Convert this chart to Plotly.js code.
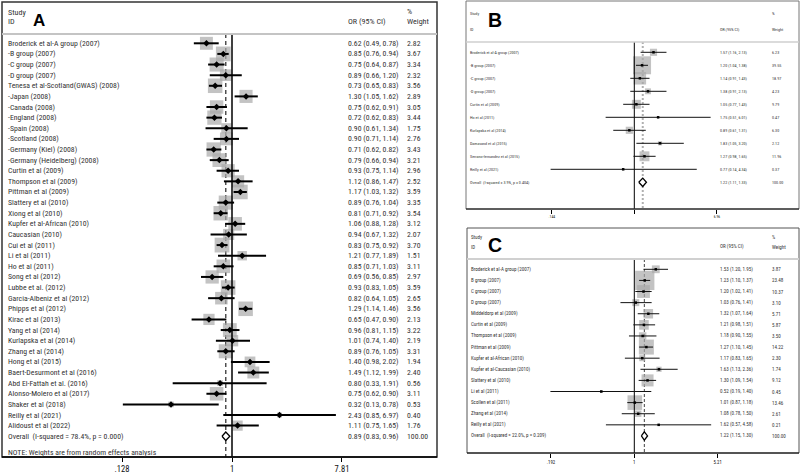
<!DOCTYPE html>
<html><head><meta charset="utf-8">
<script src="https://cdn.plot.ly/plotly-3.0.1.min.js"></script>
<style>html,body{margin:0;padding:0;background:#fff;} #chart{width:800px;height:474px;}</style>
</head><body><div id="chart"></div>
<script>
// ---------- Panel A data ----------
const aStudies = ["Broderick et al-A group (2007)", "-B group (2007)", "-C group (2007)", "-D group (2007)", "Tenesa et al-Scotland(GWAS) (2008)", "-Japan (2008)", "-Canada (2008)", "-England (2008)", "-Spain (2008)", "-Scotland (2008)", "-Germany (Kiel) (2008)", "-Germany (Heidelberg) (2008)", "Curtin et al (2009)", "Thompson et al (2009)", "Pittman et al (2009)", "Slattery et al (2010)", "Xiong et al (2010)", "Kupfer et al-African (2010)", "Caucasian (2010)", "Cui et al (2011)", "Li et al (2011)", "Ho et al (2011)", "Song et al (2012)", "Lubbe et al. (2012)", "Garcia-Albeniz et al (2012)", "Phipps et al (2012)", "Kirac et al (2013)", "Yang et al (2014)", "Kurlapska et al (2014)", "Zhang et al (2014)", "Hong et al (2015)", "Baert-Desurmont et al (2016)", "Abd El-Fattah et al. (2016)", "Alonso-Molero et al (2017)", "Shaker et al (2018)", "Reilly et al (2021)", "Alidoust et al (2022)"];
const aOR = [0.62,0.85,0.75,0.89,0.73,1.30,0.75,0.72,0.90,0.90,0.71,0.79,0.93,1.12,1.17,0.89,0.81,1.06,0.94,0.83,1.21,0.85,0.69,0.93,0.82,1.29,0.65,0.96,1.01,0.89,1.40,1.49,0.80,0.75,0.32,2.43,1.11];
const aLower = [0.49,0.76,0.64,0.66,0.65,1.05,0.62,0.62,0.61,0.71,0.62,0.66,0.75,0.86,1.03,0.76,0.71,0.88,0.67,0.75,0.77,0.71,0.56,0.83,0.64,1.14,0.47,0.81,0.74,0.76,0.98,1.12,0.33,0.62,0.13,0.85,0.75];
const aUpper = [0.78,0.94,0.87,1.20,0.83,1.62,0.91,0.83,1.34,1.14,0.82,0.94,1.14,1.47,1.32,1.04,0.92,1.28,1.32,0.92,1.89,1.03,0.85,1.05,1.05,1.46,0.90,1.15,1.40,1.05,2.02,1.99,1.91,0.90,0.78,6.97,1.65];
const aWeight = [2.82,3.67,3.34,2.32,3.56,2.89,3.05,3.44,1.75,2.76,3.43,3.21,2.96,2.52,3.59,3.35,3.54,3.12,2.07,3.70,1.51,3.11,2.97,3.59,2.65,3.56,2.13,3.22,2.19,3.31,1.94,2.40,0.56,3.11,0.53,0.40,1.76];
const aOverallLabel = "Overall  (I-squared = 78.4%, p = 0.000)";
const aOverall = [0.89, 0.83, 0.96];   // OR, lower, upper
const aOverallWeight = 100.00;
const aNote = "NOTE: Weights are from random effects analysis";
const aTickVals = [0.128, 1, 7.81];
const aTickText = [".128", "1", "7.81"];

// ---------- Panel B data ----------
const bStudies = ["Broderick et al-A group (2007)", "-B group (2007)", "-C group (2007)", "-D group (2007)", "Curtin et al (2009)", "Ho et al (2011)", "Kurlapska et al (2014)", "Damavand et al (2015)", "Serrano-fernandez et al (2015)", "Reilly et al (2021)"];
const bOR = [1.57,1.20,1.14,1.38,1.05,1.75,0.89,1.83,1.27,0.77];
const bLower = [1.16,1.04,0.91,0.91,0.77,0.51,0.61,1.05,0.98,0.14];
const bUpper = [2.13,1.38,1.43,2.13,1.43,6.01,1.31,3.20,1.65,4.34];
const bWeight = [6.23,39.55,18.97,4.23,9.79,0.47,6.30,2.12,11.96,0.37];
const bOverallLabel = "Overall  (I-squared = 3.9%, p = 0.404)";
const bOverall = [1.22, 1.11, 1.33];
const bOverallWeight = 100.00;
const bTickVals = [0.144, 1, 6.96];
const bTickText = [".144", "", "6.96"];

// ---------- Panel C data ----------
const cStudies = ["Broderick et al-A group (2007)", "B group (2007)", "C group (2007)", "D group (2007)", "Middeldorp et al (2009)", "Curtin et al (2009)", "Thompson et al (2009)", "Pittman et al (2009)", "Kupfer et al-African (2010)", "Kupfer et al-Caucasian (2010)", "Slattery et al (2010)", "Li et al (2011)", "Scollen et al (2011)", "Zhang et al (2014)", "Reilly et al (2021)"];
const cOR = [1.53,1.23,1.20,1.03,1.32,1.21,1.18,1.27,1.17,1.63,1.30,0.52,1.01,1.08,1.62];
const cLower = [1.20,1.10,1.02,0.76,1.07,0.98,0.90,1.10,0.83,1.13,1.09,0.19,0.87,0.78,0.57];
const cUpper = [1.95,1.37,1.41,1.41,1.64,1.51,1.55,1.45,1.65,2.36,1.54,1.40,1.18,1.50,4.58];
const cWeight = [3.87,23.48,10.37,3.10,5.71,5.87,3.50,14.22,2.30,1.74,9.12,0.45,13.46,2.61,0.21];
const cOverallLabel = "Overall  (I-squared = 22.0%, p = 0.209)";
const cOverall = [1.22, 1.15, 1.30];
const cOverallWeight = 100.00;
const cTickVals = [0.192, 1, 5.21];
const cTickText = [".192", "1", "5.21"];

// ---------- font selection (narrow face if installed, sized to the reference text widths) ----------
const ctx = document.createElement("canvas").getContext("2d");
const REF_STR = "Broderick et al-A group (2007)";
function hasFont(name) {
  return ["monospace", "serif", "sans-serif"].some(fb => {
    ctx.font = "100px " + fb; const w0 = ctx.measureText(REF_STR + " mmmWWiil").width;
    ctx.font = "100px '" + name + "', " + fb; const w1 = ctx.measureText(REF_STR + " mmmWWiil").width;
    return Math.abs(w0 - w1) > 0.5;
  });
}
const candidates = ["Liberation Sans Narrow", "Arial Narrow", "Roboto Condensed", "DejaVu Sans Condensed", "Noto Sans Condensed"];
let FAM = "'Liberation Sans', Arial, sans-serif";
for (const c of candidates) { if (hasFont(c)) { FAM = "'" + c + "', 'Liberation Sans', Arial, sans-serif"; break; } }
ctx.font = "100px " + FAM;
const unitW = ctx.measureText(REF_STR).width / 100;   // width per px of font size
const sizeFor = targetW => targetW / unitW;
const ARIAL = "'Liberation Sans', Arial, sans-serif";
const TEXT_COLOR = "#333";

// ---------- layout helpers ----------
const W = 800, H = 474;
const PX = v => v / W;
const PY = v => 1 - v / H;

const panels = [
  { letter: "A", idx: 1, frame: [2, 2, 437, 457], sep: 34, one: 232, perDec: 123.2, row0: 43.3, rowH: 10.62,
    boxK: 7.7, boxColor: "#a9a9a9", ciW: 2, ciColor: "#000", ptSymbol: "diamond", ptSize: 5,
    labelX: 7, orX: 347, wX: 406, labelTargetW: 92, hScale: 1.04, tickScale: 1.1, letterX: 39, letterY: 20, letterFs: 17,
    studyY: 12, idY: 22, pctY: 11, weightY: 22, diamondH: 4.2,
    frameColor: "#333", frameW: 1.5, sepColor: "#c4c4c4", sepW: 2,
    dashColor: "#444", dashW: 1.4, dash: "4px,3px", refW: 1.5, noteY: 452,
    data: { studies: aStudies, or: aOR, lo: aLower, hi: aUpper, w: aWeight, ovLabel: aOverallLabel, ov: aOverall, ovW: aOverallWeight, tv: aTickVals, tt: aTickText } },
  { letter: "B", idx: 2, frame: [466, 1, 799, 209], sep: 42, one: 634.3, perDec: 98, row0: 52.3, rowH: 13.0,
    boxK: 2.86, boxColor: "#a9a9a9", ciW: 1, ciColor: "#111", ptSymbol: "square", ptSize: 2.5,
    labelX: 469, orX: 719, wX: 771, labelTargetW: 49, hScale: 1.0, tickScale: 0.9, letterX: 495, letterY: 20, letterFs: 19.5,
    studyY: 13, idY: 29, pctY: 13, weightY: 29, diamondH: 4.2,
    frameColor: "#777", frameW: 1, sepColor: "#cfcfcf", sepW: 1.5,
    dashColor: "#b0b0b0", dashW: 2, dash: "2px,2px", refW: 1,
    data: { studies: bStudies, or: bOR, lo: bLower, hi: bUpper, w: bWeight, ovLabel: bOverallLabel, ov: bOverall, ovW: bOverallWeight, tv: bTickVals, tt: bTickText } },
  { letter: "C", idx: 3, frame: [467, 228, 799, 453], sep: 259, one: 634.3, perDec: 116.3, row0: 269.3, rowH: 11.11,
    boxK: 3.98, boxColor: "#a9a9a9", ciW: 1, ciColor: "#111", ptSymbol: "square", ptSize: 2.5,
    labelX: 470, orX: 719, wX: 771, labelTargetW: 60, hScale: 1.0, tickScale: 0.95, letterX: 495, letterY: 245, letterFs: 19.5,
    studyY: 237, idY: 247, pctY: 237, weightY: 247, diamondH: 4.2,
    frameColor: "#555", frameW: 1, sepColor: "#d0d0d0", sepW: 2,
    dashColor: "#444", dashW: 1, dash: "3px,2px", refW: 1,
    data: { studies: cStudies, or: cOR, lo: cLower, hi: cUpper, w: cWeight, ovLabel: cOverallLabel, ov: cOverall, ovW: cOverallWeight, tv: cTickVals, tt: cTickText } }
];

const traces = [], annotations = [], shapes = [];
const layout = {
  width: W, height: H, margin: { l: 0, r: 0, t: 0, b: 0 },
  paper_bgcolor: "#fff", plot_bgcolor: "rgba(0,0,0,0)", showlegend: false,
  font: { family: FAM, color: TEXT_COLOR }
};
const f2 = v => v.toFixed(2);

panels.forEach(p => {
  const d = p.data;
  const fs = sizeFor(p.labelTargetW);
  const hfs = fs * p.hScale;
  const sfx = p.idx === 1 ? "" : String(p.idx);
  const xa = "x" + sfx, ya = "y" + sfx;
  const [fl, ft, fr, fb] = p.frame;
  const toIdx = py => (py - p.row0) / p.rowH;
  const n = d.studies.length;
  const rows = d.studies.map((_, i) => i);

  layout["xaxis" + sfx] = {
    domain: [PX(fl), PX(fr)], anchor: ya, type: "log",
    range: [(fl - p.one) / p.perDec, (fr - p.one) / p.perDec],
    tickmode: "array", tickvals: d.tv, ticktext: d.tt,
    ticks: "outside", ticklen: 4, tickwidth: 1, tickcolor: "#000",
    tickfont: { family: FAM, size: fs * p.tickScale, color: "#111" },
    showgrid: false, zeroline: false, showline: false, fixedrange: true
  };
  layout["yaxis" + sfx] = {
    domain: [PY(fb), PY(ft)], anchor: xa, range: [toIdx(fb), toIdx(ft)],
    visible: false, showgrid: false, zeroline: false, fixedrange: true
  };

  const ySep = toIdx(p.sep), yBot = toIdx(fb);

  // dashed overall line
  traces.push({ type: "scatter", mode: "lines", xaxis: xa, yaxis: ya, hoverinfo: "skip",
    x: [d.ov[0], d.ov[0]], y: [ySep, yBot], line: { color: p.dashColor, width: p.dashW, dash: p.dash } });
  // weight boxes
  traces.push({ type: "scatter", mode: "markers", xaxis: xa, yaxis: ya, hoverinfo: "skip",
    x: d.or, y: rows,
    marker: { symbol: "square", color: p.boxColor, size: d.w.map(w => p.boxK * Math.sqrt(w)), line: { width: 0 } } });
  // reference line at 1
  traces.push({ type: "scatter", mode: "lines", xaxis: xa, yaxis: ya, hoverinfo: "skip",
    x: [1, 1], y: [ySep, yBot], line: { color: "#000", width: p.refW } });
  // CI lines
  const cx = [], cy = [];
  rows.forEach(i => { cx.push(d.lo[i], d.hi[i], null); cy.push(i, i, null); });
  traces.push({ type: "scatter", mode: "lines", xaxis: xa, yaxis: ya, hoverinfo: "skip",
    x: cx, y: cy, line: { color: p.ciColor, width: p.ciW } });
  // point estimates
  traces.push({ type: "scatter", mode: "markers", xaxis: xa, yaxis: ya, hoverinfo: "skip",
    x: d.or, y: rows, marker: { symbol: p.ptSymbol, color: "#000", size: p.ptSize, line: { width: 0 } } });
  // overall diamond
  const h = p.diamondH / p.rowH;
  traces.push({ type: "scatter", mode: "lines", xaxis: xa, yaxis: ya, hoverinfo: "skip",
    x: [d.ov[1], d.ov[0], d.ov[2], d.ov[0], d.ov[1]], y: [n, n - h, n, n + h, n],
    fill: "toself", fillcolor: "#fff", line: { color: "#000", width: 1.3 } });

  // frame, header separator, axis line
  shapes.push({ type: "rect", xref: "paper", yref: "paper", x0: PX(fl), x1: PX(fr), y0: PY(fb), y1: PY(ft),
    line: { color: p.frameColor, width: p.frameW }, fillcolor: "rgba(0,0,0,0)", layer: "above" });
  shapes.push({ type: "line", xref: "paper", yref: "paper", x0: PX(fl), x1: PX(fr), y0: PY(p.sep), y1: PY(p.sep),
    line: { color: p.sepColor, width: p.sepW } });
  shapes.push({ type: "line", xref: "paper", yref: "paper", x0: PX(fl), x1: PX(fr), y0: PY(fb), y1: PY(fb),
    line: { color: "#000", width: p.frameW }, layer: "above" });

  const txt = (text, x, y, yref, size) => ({
    text, x, y, xref: "paper", yref, xanchor: "left", yanchor: "middle", showarrow: false,
    font: { family: FAM, size, color: TEXT_COLOR }, borderpad: 0
  });

  // headers
  annotations.push(txt("Study", PX(p.labelX), PY(p.studyY), "paper", hfs));
  annotations.push(txt("ID", PX(p.labelX), PY(p.idY), "paper", hfs));
  annotations.push(txt("OR (95% CI)", PX(p.orX), PY(p.idY), "paper", hfs));
  annotations.push(txt("%", PX(p.wX), PY(p.pctY), "paper", hfs));
  annotations.push(txt("Weight", PX(p.wX), PY(p.weightY), "paper", hfs));
  annotations.push({ text: "<b>" + p.letter + "</b>", x: PX(p.letterX), y: PY(p.letterY), xref: "paper", yref: "paper",
    xanchor: "center", yanchor: "middle", showarrow: false, font: { family: ARIAL, size: p.letterFs, color: "#000" } });

  // rows
  rows.forEach(i => {
    annotations.push(txt(d.studies[i], PX(p.labelX), i, ya, fs));
    annotations.push(txt(f2(d.or[i]) + " (" + f2(d.lo[i]) + ", " + f2(d.hi[i]) + ")", PX(p.orX), i, ya, fs));
    annotations.push(txt(f2(d.w[i]), PX(p.wX), i, ya, fs));
  });
  annotations.push(txt(d.ovLabel, PX(p.labelX), n, ya, fs));
  annotations.push(txt(f2(d.ov[0]) + " (" + f2(d.ov[1]) + ", " + f2(d.ov[2]) + ")", PX(p.orX), n, ya, fs));
  annotations.push(txt(f2(d.ovW), PX(p.wX), n, ya, fs));
  if (p.noteY) annotations.push(txt(aNote, PX(p.labelX), PY(p.noteY), "paper", fs));
});

layout.annotations = annotations;
layout.shapes = shapes;
Plotly.newPlot("chart", traces, layout, { displayModeBar: false, staticPlot: true });
</script>
</body></html>
